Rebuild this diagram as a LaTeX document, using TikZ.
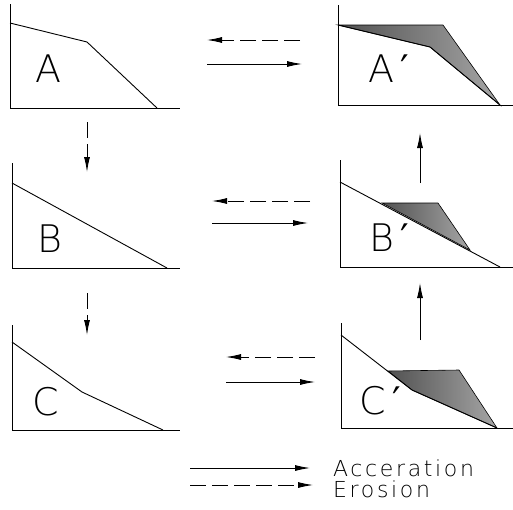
\documentclass[tikz,border=0pt]{standalone}
\usepackage{fontspec}
\setmainfont{DejaVu Sans}
\newfontfamily\thinfont{DejaVu Sans ExtraLight}[LetterSpace=12]
\newfontfamily\thinlbl{DejaVu Sans ExtraLight}
\newfontfamily\primefont{DejaVu Sans}
\newcommand{\myprime}{\,{\primefont ′}}
\usetikzlibrary{arrows.meta}
\begin{document}
\begin{tikzpicture}[x=1pt,y=-1pt,
  axis/.style={line width=0.9pt},
  prof/.style={line width=0.9pt},
  shade/.style={left color=black!68, right color=black!35, draw=black, line width=0.6pt},
  conn/.style={line width=0.9pt, -{Latex[length=15pt,width=6pt]}},
  erod/.style={conn, dash pattern=on 16pt off 6pt},
  lbl/.style={font=\thinlbl\fontsize{38}{38}\selectfont, inner sep=0pt},
  leg/.style={font=\thinfont\fontsize{22}{22}\selectfont, anchor=west, inner sep=0pt}]
\useasboundingbox (0,0) rectangle (513,509);

% Panel A
\draw[axis] (10,4) -- (10,108) -- (180,108);
\draw[prof] (10,23) -- (87,42) -- (157,108);
\node[lbl] (lA) at (48,69) {A};

% Panel A'
\shade[shade] (338,25) -- (443,25) -- (500,105) -- (430,47) -- cycle;
\draw[axis] (338,5) -- (338,105) -- (513,105);
\draw[prof] (338,25) -- (430,47) -- (500,105);
\node[lbl] (lAp) at (389,69) {A\myprime};

% Panel B
\draw[axis] (12,163) -- (12,268) -- (180,268);
\draw[prof] (12,183) -- (167,268);
\node[lbl] (lB) at (50,239) {B};

% Panel B'
\shade[shade] (382,203) -- (438,203) -- (470,250) -- cycle;
\draw[axis] (340,160) -- (340,267) -- (513,267);
\draw[prof] (340,182) -- (500,267);
\node[lbl] (lBp) at (389,238) {B\myprime};

% Panel C
\draw[axis] (12,325) -- (12,430) -- (180,430);
\draw[prof] (12,342) -- (82,392) -- (163,430);
\node[lbl] (lC) at (46,402) {C};

% Panel C'
\shade[shade] (388,371) -- (459,370) -- (497,428) -- (412,390) -- cycle;
\draw[axis] (341,323) -- (341,428) -- (513,428);
\draw[prof] (341,335) -- (412,390) -- (497,428);
\node[lbl] (lCp) at (380,401) {C\myprime};

% connector end points
\coordinate (ab1) at (87,122);  \coordinate (ab2) at (87,172);
\coordinate (bc1) at (87,293);  \coordinate (bc2) at (87,335);
\coordinate (cb1) at (420,340); \coordinate (cb2) at (420,283);
\coordinate (ba1) at (420,183); \coordinate (ba2) at (420,133);
\coordinate (r1e1) at (300,40); \coordinate (r1e2) at (207,40);
\coordinate (r1a1) at (207,64); \coordinate (r1a2) at (302,64);
\coordinate (r2e1) at (310,201); \coordinate (r2e2) at (212,201);
\coordinate (r2a1) at (212,223); \coordinate (r2a2) at (308,223);
\coordinate (r3e1) at (315,357); \coordinate (r3e2) at (226,357);
\coordinate (r3a1) at (226,382); \coordinate (r3a2) at (315,382);
\coordinate (la1) at (190,468); \coordinate (la2) at (310,468);
\coordinate (le1) at (190,485); \coordinate (le2) at (313,485);

\draw[erod] (ab1) -- (ab2);
\draw[erod] (bc1) -- (bc2);
\draw[conn] (cb1) -- (cb2);
\draw[conn] (ba1) -- (ba2);
\draw[erod] (r1e1) -- (r1e2);
\draw[conn] (r1a1) -- (r1a2);
\draw[erod] (r2e1) -- (r2e2);
\draw[conn] (r2a1) -- (r2a2);
\draw[erod] (r3e1) -- (r3e2);
\draw[conn] (r3a1) -- (r3a2);

% legend
\draw[conn] (la1) -- (la2);
\draw[erod] (le1) -- (le2);
\node[leg] (tA) at (333,468) {Acceration};
\node[leg] (tE) at (333,489) {Erosion};
\end{tikzpicture}
\end{document}
